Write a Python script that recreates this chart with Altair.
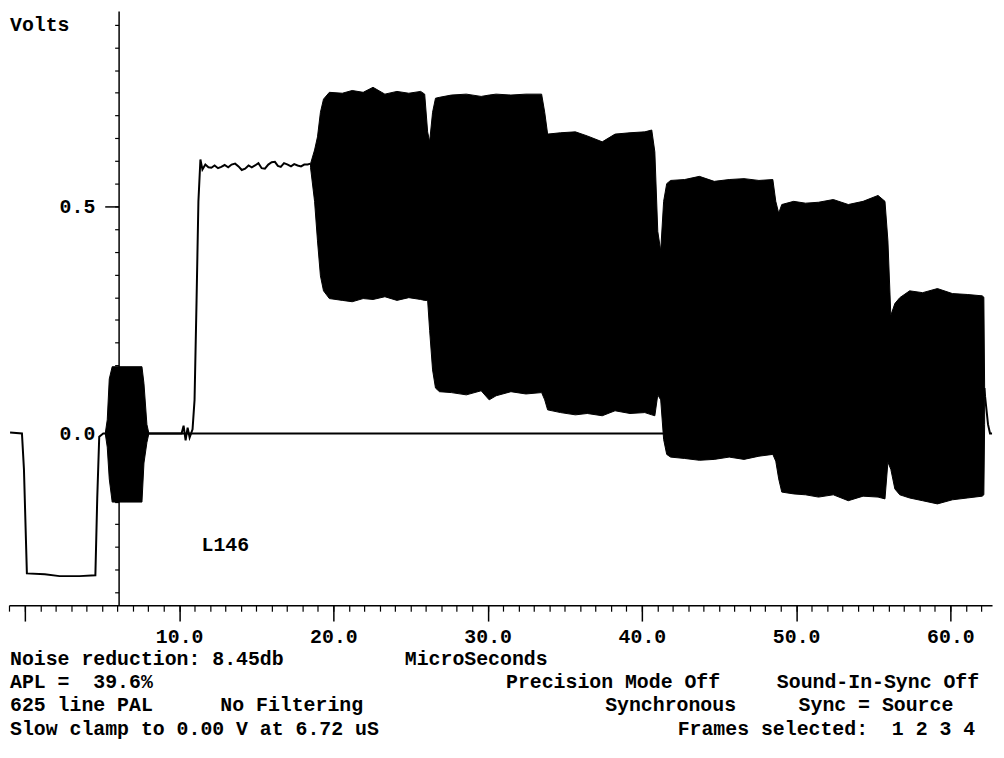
import altair as alt
import pandas as pd

# ---------------- data (time in microseconds, level in volts) ----------------
# single-valued trace: sync, back porch, luminance bar
trace_t = [-0.96, -0.19, -0.06, 0.13, 1.29, 2.25, 3.54, 4.57, 4.69, 4.82, 5.08, 5.34,
           8.04, 10.16, 10.29, 10.42, 10.55, 10.68, 10.87, 11.00, 11.13, 11.25, 11.38,
           11.51, 11.70, 11.90, 12.09, 12.30, 12.52, 12.73, 12.95, 13.18, 13.40, 13.63,
           13.85, 14.06, 14.28, 14.50, 14.71, 14.92, 15.14, 15.35, 15.56, 15.78, 16.00,
           16.21, 16.40, 16.59, 16.80, 17.04, 17.25, 17.46, 17.68, 17.90, 18.11, 18.33, 18.52]
trace_v = [0.002, 0.0, -0.079, -0.308, -0.310, -0.314, -0.314, -0.312, -0.144, -0.007, 0.0, 0.0,
           0.0, 0.0, 0.017, -0.015, 0.013, -0.009, 0.009, 0.074, 0.293, 0.511, 0.603,
           0.581, 0.592, 0.586, 0.585, 0.590, 0.584, 0.587, 0.591, 0.586, 0.592, 0.594,
           0.588, 0.580, 0.583, 0.590, 0.586, 0.590, 0.595, 0.584, 0.583, 0.592, 0.597,
           0.598, 0.589, 0.587, 0.595, 0.592, 0.588, 0.593, 0.590, 0.588, 0.592, 0.592, 0.594]
tail_t = [62.21, 62.25, 62.44, 62.57, 62.70]
tail_v = [0.10, 0.081, 0.02, 0.0, 0.0]

# colour burst envelope
cb_t = [5.21, 5.34, 5.47, 5.66, 6.62, 7.59, 7.72, 7.91, 8.04]
cb_hi = [0.0, 0.03, 0.12, 0.147, 0.147, 0.147, 0.11, 0.02, 0.0]
cb_lo = [0.0, -0.03, -0.10, -0.151, -0.151, -0.151, -0.065, -0.02, 0.0]

# multiburst envelope (upper and lower edges)
mb_t = [18.52, 18.78, 18.97, 19.16, 19.36, 19.74, 20.58, 21.22, 21.93, 22.57, 23.34, 24.12,
        24.89, 25.66, 25.92, 26.11, 26.24, 26.43, 26.62, 26.88, 27.65, 28.62, 29.58, 30.10,
        30.55, 31.51, 32.48, 33.50, 33.70, 33.89, 34.73, 35.69, 36.46, 37.43, 38.26, 39.23,
        40.19, 40.64, 40.84, 41.03, 41.22, 41.41, 41.61, 41.86, 42.77, 43.73, 44.69, 45.66,
        46.62, 47.59, 48.49, 48.68, 48.87, 49.07, 49.84, 50.61, 51.45, 52.41, 53.38, 54.34,
        55.31, 55.76, 55.95, 56.14, 56.40, 56.72, 57.36, 58.20, 59.16, 60.13, 61.09, 62.06,
        62.17, 62.22]
mb_hi = [0.594, 0.624, 0.653, 0.707, 0.736, 0.751, 0.749, 0.755, 0.751, 0.762, 0.747, 0.753,
         0.749, 0.753, 0.747, 0.664, 0.642, 0.707, 0.738, 0.740, 0.745, 0.747, 0.742, 0.745,
         0.747, 0.745, 0.747, 0.747, 0.707, 0.659, 0.662, 0.664, 0.655, 0.642, 0.659, 0.662,
         0.664, 0.668, 0.620, 0.445, 0.402, 0.511, 0.550, 0.557, 0.559, 0.566, 0.555, 0.559,
         0.561, 0.557, 0.559, 0.511, 0.485, 0.504, 0.511, 0.507, 0.509, 0.515, 0.504, 0.511,
         0.524, 0.511, 0.424, 0.260, 0.286, 0.299, 0.314, 0.310, 0.319, 0.308, 0.306, 0.303,
         0.300, 0.10]
mb_lo = [0.585, 0.511, 0.424, 0.347, 0.314, 0.297, 0.293, 0.290, 0.297, 0.295, 0.301, 0.293,
         0.299, 0.295, 0.293, 0.293, 0.227, 0.140, 0.100, 0.092, 0.090, 0.085, 0.094, 0.074,
         0.083, 0.092, 0.087, 0.090, 0.074, 0.052, 0.046, 0.041, 0.044, 0.039, 0.050, 0.044,
         0.046, 0.041, 0.039, 0.085, 0.074, -0.013, -0.046, -0.052, -0.055, -0.059, -0.057, -0.052,
         -0.057, -0.050, -0.046, -0.061, -0.100, -0.129, -0.133, -0.135, -0.140, -0.135, -0.148, -0.138,
         -0.140, -0.144, -0.063, -0.079, -0.122, -0.135, -0.142, -0.148, -0.155, -0.146, -0.142, -0.138,
         -0.135, 0.02]

zero_start, zero_end = [6.0], [61.3]

# annotation texts (non-breaking spaces keep the double gaps)
NB = "\u00a0"
notes_text = ["Volts", "L146",
              "Noise reduction: 8.45db", "MicroSeconds",
              "APL =" + NB + NB + "39.6%", "Precision Mode Off", "Sound-In-Sync Off",
              "625 line PAL", "No Filtering", "Synchronous", "Sync = Source",
              "Slow clamp to 0.00 V at 6.72 uS", "Frames selected:" + NB + NB + "1 2 3 4"]
notes_x = [-0.965, 11.45,
           -0.965, 24.63,
           -0.965, 31.19, 48.75,
           -0.965, 12.67, 37.62, 50.16,
           -0.965, 42.32]
notes_y = [0.90, -0.245,
           -0.496, -0.496,
           -0.548, -0.548, -0.548,
           -0.598, -0.598, -0.598, -0.598,
           -0.651, -0.651]

x_major = [0, 10, 20, 30, 40, 50, 60]
x_minor = list(range(-1, 63))
y_major = [0.0, 0.5]
y_minor = [-0.35, -0.3, -0.25, -0.2, -0.15, -0.1, -0.05, 0.0, 0.05, 0.1, 0.15, 0.2, 0.25,
           0.3, 0.35, 0.4, 0.45, 0.5, 0.55, 0.6, 0.65, 0.7, 0.75, 0.8, 0.85, 0.9]

# ---------------- tables ----------------
trace_df = pd.DataFrame({
    "t": trace_t + tail_t,
    "v": trace_v + tail_v,
    "seg": ["a"] * len(trace_t) + ["b"] * len(tail_t),
})
band_df = pd.DataFrame({
    "t": cb_t + mb_t,
    "hi": cb_hi + mb_hi,
    "lo": cb_lo + mb_lo,
    "seg": ["cb"] * len(cb_t) + ["mb"] * len(mb_t),
})
zero_df = pd.DataFrame({"t": zero_start, "t2": zero_end, "v": [0.0]})
notes_df = pd.DataFrame({"text": notes_text, "t": notes_x, "v": notes_y})

FONT = "Liberation Mono"
FS = 20
xs = alt.Scale(domain=[-1.03, 62.70], nice=False, zero=False)
ys = alt.Scale(domain=[-0.378, 0.930], nice=False, zero=False)
YOFF = -110.5

x_major_axis = alt.Axis(orient="bottom", values=x_major, tickSize=16, tickWidth=1.5,
                        tickColor="black", domain=True, domainColor="black", domainWidth=1.5,
                        labelExpr="datum.value == 0 ? '' : format(datum.value, '.1f')",
                        labelFont=FONT, labelFontSize=FS, labelFontWeight="bold",
                        labelColor="black", labelPadding=16, labelBaseline="middle",
                        labelFlush=False, labelOverlap=False, grid=False, title=None)
x_minor_axis = alt.Axis(orient="bottom", values=x_minor, tickSize=6, tickWidth=1.2,
                        tickColor="black", domain=False, labels=False, grid=False, title=None)
y_major_axis = alt.Axis(orient="left", offset=YOFF, values=y_major, tickSize=14, tickWidth=1.5,
                        tickColor="black", domain=True, domainColor="black", domainWidth=1.5,
                        format=".1f", labelFont=FONT, labelFontSize=FS, labelFontWeight="bold",
                        labelColor="black", labelPadding=10, labelBaseline="middle",
                        labelFlush=False, labelOverlap=False, grid=False, title=None)
y_minor_axis = alt.Axis(orient="left", offset=YOFF, values=y_minor, tickSize=4, tickWidth=1.2,
                        tickColor="black", domain=False, labels=False, grid=False, title=None)

zero_rule = alt.Chart(zero_df).mark_rule(color="black", strokeWidth=2).encode(
    x=alt.X("t:Q", scale=xs, axis=None),
    x2="t2:Q",
    y=alt.Y("v:Q", scale=ys, axis=None),
)

band = alt.Chart(band_df).mark_area(color="black", stroke="black", strokeWidth=1,
                                    opacity=1).encode(
    x=alt.X("t:Q", scale=xs, axis=x_major_axis),
    y=alt.Y("hi:Q", scale=ys, axis=y_major_axis),
    y2="lo:Q",
    detail="seg:N",
)

trace = alt.Chart(trace_df).mark_line(color="black", strokeWidth=2).encode(
    x=alt.X("t:Q", scale=xs, axis=x_minor_axis),
    y=alt.Y("v:Q", scale=ys, axis=y_minor_axis),
    detail="seg:N",
    order="t:Q",
)

notes = alt.Chart(notes_df).mark_text(font=FONT, fontSize=FS, fontWeight="bold",
                                      color="black", align="left", baseline="middle").encode(
    x=alt.X("t:Q", scale=xs, axis=None),
    y=alt.Y("v:Q", scale=ys, axis=None),
    text="text:N",
)

chart = alt.layer(zero_rule, band, trace, notes).resolve_scale(
    x="shared", y="shared"
).resolve_axis(
    x="independent", y="independent"
).properties(
    width=991, height=599,
    autosize=alt.AutoSizeParams(type="none"),
    padding={"left": 1, "top": 0, "right": 4, "bottom": 150},
    background="white",
).configure_view(stroke=None)

chart.save("out.html", embed_options={"renderer": "svg", "actions": False})
